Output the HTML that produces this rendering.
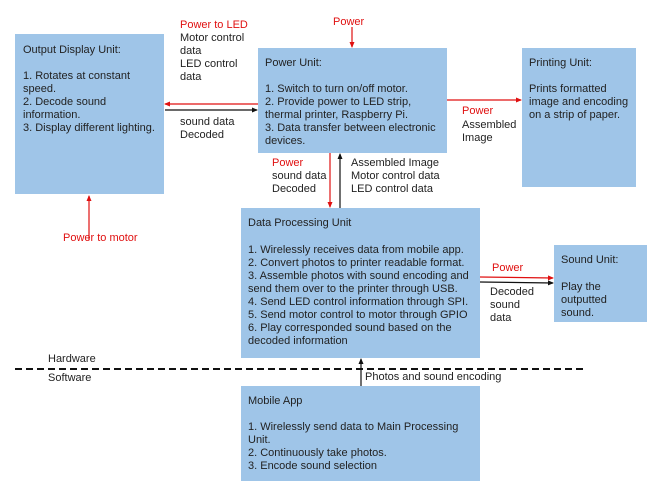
<!DOCTYPE html>
<html><head><meta charset="utf-8"><style>
html,body{margin:0;padding:0;background:#fff;}
svg{display:block;}
text{font-family:"Liberation Sans",Arial,sans-serif;font-size:11px;fill:#222;}
.r{fill:#e01010;}
</style></head><body>
<svg width="647" height="492" viewBox="0 0 647 492" xmlns="http://www.w3.org/2000/svg">
<defs>
<marker id="ar" markerWidth="6" markerHeight="6" refX="5" refY="3" orient="auto" markerUnits="userSpaceOnUse"><path d="M0,0.5 L6,3 L0,5.5z" fill="#e01010"/></marker>
<marker id="ab" markerWidth="6" markerHeight="6" refX="5" refY="3" orient="auto" markerUnits="userSpaceOnUse"><path d="M0,0.5 L6,3 L0,5.5z" fill="#111"/></marker>
</defs>
<g fill="#9fc5e8">
<rect x="15" y="34" width="149" height="160"/>
<rect x="258" y="48" width="189" height="105"/>
<rect x="522" y="48" width="114" height="139"/>
<rect x="241" y="208" width="239" height="150"/>
<rect x="554" y="245" width="93" height="77"/>
<rect x="241" y="386" width="239" height="95"/>
</g>
<!-- connectors -->
<g stroke-width="1.2" fill="none">
<line x1="352" y1="27" x2="352" y2="47" stroke="#e01010" marker-end="url(#ar)"/>
<line x1="258" y1="104" x2="165" y2="104" stroke="#e01010" marker-end="url(#ar)"/>
<line x1="165" y1="110" x2="257" y2="110" stroke="#111" marker-end="url(#ab)"/>
<line x1="447" y1="100" x2="521" y2="100" stroke="#e01010" marker-end="url(#ar)"/>
<line x1="330" y1="153" x2="330" y2="207" stroke="#e01010" marker-end="url(#ar)"/>
<line x1="340" y1="208" x2="340" y2="154" stroke="#111" marker-end="url(#ab)"/>
<line x1="89" y1="240" x2="89" y2="196" stroke="#e01010" marker-end="url(#ar)"/>
<line x1="480" y1="277" x2="553" y2="278" stroke="#e01010" marker-end="url(#ar)"/>
<line x1="480" y1="282" x2="553" y2="283" stroke="#111" marker-end="url(#ab)"/>
<line x1="361" y1="386" x2="361" y2="359" stroke="#111" marker-end="url(#ab)"/>
<line x1="15" y1="369" x2="586" y2="369" stroke="#111" stroke-width="2" stroke-dasharray="7,4"/>
</g>
<!-- box text -->
<text x="23" y="53">Output Display Unit:</text>
<text x="23" y="79">1. Rotates at constant</text>
<text x="23" y="92">speed.</text>
<text x="23" y="105">2. Decode sound</text>
<text x="23" y="118">information.</text>
<text x="23" y="131">3. Display different lighting.</text>

<text x="265" y="66">Power Unit:</text>
<text x="265" y="92">1. Switch to turn on/off motor.</text>
<text x="265" y="105">2. Provide power to LED strip,</text>
<text x="265" y="118">thermal printer, Raspberry Pi.</text>
<text x="265" y="131">3. Data transfer between electronic</text>
<text x="265" y="144">devices.</text>

<text x="529" y="66">Printing Unit:</text>
<text x="529" y="92">Prints formatted</text>
<text x="529" y="105">image and encoding</text>
<text x="529" y="118">on a strip of paper.</text>

<text x="248" y="226">Data Processing Unit</text>
<text x="248" y="253">1. Wirelessly receives data from mobile app.</text>
<text x="248" y="266">2. Convert photos to printer readable format.</text>
<text x="248" y="279">3. Assemble photos with sound encoding and</text>
<text x="248" y="292">send them over to the printer through USB.</text>
<text x="248" y="305">4. Send LED control information through SPI.</text>
<text x="248" y="318">5. Send motor control to motor through GPIO</text>
<text x="248" y="331">6. Play corresponded sound based on the</text>
<text x="248" y="344">decoded information</text>

<text x="561" y="263">Sound Unit:</text>
<text x="561" y="290">Play the</text>
<text x="561" y="303">outputted</text>
<text x="561" y="316">sound.</text>

<text x="248" y="404">Mobile App</text>
<text x="248" y="430">1. Wirelessly send data to Main Processing</text>
<text x="248" y="443">Unit.</text>
<text x="248" y="456">2. Continuously take photos.</text>
<text x="248" y="469">3. Encode sound selection</text>

<!-- labels -->
<text x="333" y="25" class="r">Power</text>
<text x="180" y="28" class="r">Power to LED</text>
<text x="180" y="41">Motor control</text>
<text x="180" y="54">data</text>
<text x="180" y="67">LED control</text>
<text x="180" y="80">data</text>
<text x="180" y="125">sound data</text>
<text x="180" y="138">Decoded</text>
<text x="462" y="114" class="r">Power</text>
<text x="462" y="128">Assembled</text>
<text x="462" y="141">Image</text>
<text x="272" y="166" class="r">Power</text>
<text x="272" y="179">sound data</text>
<text x="272" y="192">Decoded</text>
<text x="351" y="166">Assembled Image</text>
<text x="351" y="179">Motor control data</text>
<text x="351" y="192">LED control data</text>
<text x="63" y="241" class="r">Power to motor</text>
<text x="492" y="271" class="r">Power</text>
<text x="490" y="295">Decoded</text>
<text x="490" y="308">sound</text>
<text x="490" y="321">data</text>
<text x="48" y="362">Hardware</text>
<text x="48" y="381">Software</text>
<text x="365" y="380">Photos and sound encoding</text>
</svg>
</body></html>
